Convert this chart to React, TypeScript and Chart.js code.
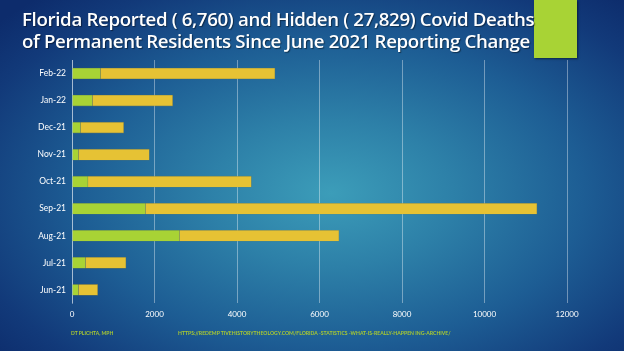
import React, { useEffect, useRef } from "react";
import { Chart, registerables } from "chart.js";

Chart.register(...registerables);

const months = ["Jun-21", "Jul-21", "Aug-21", "Sep-21", "Oct-21", "Nov-21", "Dec-21", "Jan-22", "Feb-22"];
const reported = [155, 325, 2603, 1779, 388, 155, 203, 494, 688];
const hidden = [468, 984, 3870, 9494, 3961, 1721, 1050, 1947, 4233];
const xTicks = [0, 2000, 4000, 6000, 8000, 10000, 12000];
const titleLines = [
  "Florida Reported ( 6,760) and Hidden ( 27,829) Covid Deaths",
  "of Permanent Residents Since June 2021 Reporting Change",
];
const footerLeft = "DT PLICHTA, MPH";
const footerRight = "HTTPS://REDEMP TIVEHISTORYTHEOLOGY.COM/FLORIDA  -STATISTICS  -WHAT-IS-REALLY-HAPPEN ING-ARCHIVE/";

export default function App() {
  const ref = useRef<HTMLCanvasElement | null>(null);

  useEffect(() => {
    if (!ref.current) return;
    const chart = new Chart(ref.current, {
      type: "bar",
      data: {
        labels: months,
        datasets: [
          {
            label: "Reported",
            data: reported,
            backgroundColor: "#a8d335",
            borderColor: "rgba(120,140,60,0.6)",
            borderWidth: 0.6,
            barThickness: 11,
          },
          {
            label: "Hidden",
            data: hidden,
            backgroundColor: "#e6c234",
            borderColor: "rgba(150,130,50,0.6)",
            borderWidth: 0.6,
            barThickness: 11,
          },
        ],
      },
      options: {
        indexAxis: "y",
        responsive: false,
        animation: false,
        layout: { padding: { left: 0, right: 57, top: 60, bottom: 26 } },
        plugins: {
          legend: { display: false },
          tooltip: { enabled: false },
          title: { display: false },
        },
        scales: {
          x: {
            stacked: true,
            min: 0,
            max: 12000,
            afterBuildTicks: (s: any) => {
              s.ticks = xTicks.map((v) => ({ value: v }));
            },
            grid: {
              color: "rgba(255,255,255,0.38)",
              lineWidth: 1,
              drawTicks: false,
            },
            border: { display: false },
            ticks: {
              color: "#ffffff",
              font: { family: "Lato", size: 8 },
              padding: 6,
              maxRotation: 0,
              callback: (v: any) => String(v),
            },
          },
          y: {
            stacked: true,
            reverse: true,
            afterFit: (s: any) => {
              s.width = 72;
            },
            grid: { display: false, drawTicks: false },
            border: { display: true, color: "rgba(255,255,255,0.38)", width: 1 },
            ticks: {
              color: "#ffffff",
              font: { family: "Lato", size: 8.5 },
              padding: 6,
            },
          },
        },
      },
    });
    return () => chart.destroy();
  }, []);

  return (
    <div
      style={{
        position: "fixed",
        left: 0,
        top: 0,
        width: 624,
        height: 351,
        overflow: "hidden",
        background:
          "radial-gradient(ellipse 70% 75% at 53% 55%, #3c9db9 0%, #2d80a8 28%, #1d5d94 58%, #123a7a 85%, #0d2c6c 100%)",
      }}
    >
      <div
        style={{
          position: "absolute",
          left: 534,
          top: 0,
          width: 43,
          height: 58,
          background: "#a8d335",
          boxShadow: "1px 1px 2px rgba(0,0,0,0.5)",
        }}
      />
      <div
        style={{
          position: "absolute",
          left: 22,
          top: 8,
          color: "#ffffff",
          fontFamily: "'Open Sans', sans-serif",
          fontWeight: 600,
          fontSize: 18.7,
          lineHeight: "22px",
          letterSpacing: -0.35,
          whiteSpace: "nowrap",
          textShadow: "1px 1px 1px rgba(0,0,0,0.45)",
        }}
      >
        {titleLines.map((t, i) => (
          <div key={i}>{t}</div>
        ))}
      </div>
      <canvas ref={ref} width={624} height={351} style={{ position: "absolute", left: 0, top: 0 }} />
      <div
        style={{
          position: "absolute",
          left: 71,
          top: 330,
          color: "#a8c832",
          fontFamily: "Lato, sans-serif",
          fontWeight: 700,
          fontSize: 5,
          whiteSpace: "nowrap",
        }}
      >
        {footerLeft}
      </div>
      <div
        style={{
          position: "absolute",
          left: 178,
          top: 330,
          color: "#a8c832",
          fontFamily: "Lato, sans-serif",
          fontWeight: 700,
          fontSize: 5.1,
          whiteSpace: "nowrap",
        }}
      >
        {footerRight}
      </div>
    </div>
  );
}
